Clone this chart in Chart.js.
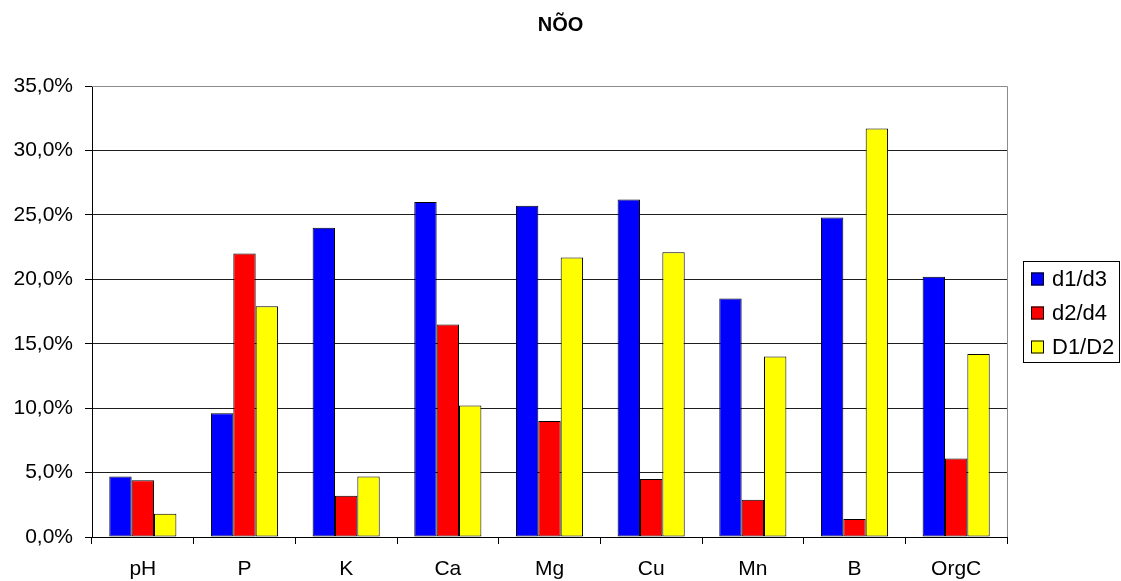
<!DOCTYPE html>
<html>
<head>
<meta charset="utf-8">
<script src="https://cdn.jsdelivr.net/npm/chart.js@4/dist/chart.umd.min.js"></script>
<style>
  html, body { margin: 0; padding: 0; background: #fff; }
  #wrap { width: 1121px; height: 581px; }
</style>
</head>
<body>
<div id="wrap"><canvas id="c" width="1121" height="581"></canvas></div>
<script>
// Soil attributes compared
const categories = ['pH', 'P', 'K', 'Ca', 'Mg', 'Cu', 'Mn', 'B', 'OrgC'];
// Relative differences in percent
const seriesNames = ['d1/d3', 'd2/d4', 'D1/D2'];
const d1d3 = [4.7, 9.6, 24.0, 26.0, 25.7, 26.2, 18.5, 24.8, 20.2];
const d2d4 = [4.4, 22.0, 3.2, 16.5, 9.0, 4.5, 2.9, 1.4, 6.1];
const D1D2 = [1.8, 17.9, 4.7, 10.2, 21.7, 22.1, 14.0, 31.7, 14.2];
const seriesColors = ['#0000FF', '#FF0000', '#FFFF00'];
const yTicks = [0, 5, 10, 15, 20, 25, 30, 35];
const chartTitle = 'NÕO';

const FONT = "'Liberation Sans', Arial, sans-serif";

// Plot frame (gray top/right edges) and boxed legend on the right
const framePlugin = {
  id: 'frame',
  beforeDatasetsDraw(chart) {
    const { ctx, chartArea: a } = chart;
    ctx.save();
    ctx.strokeStyle = '#8c8c8c';
    ctx.lineWidth = 1;
    ctx.beginPath();
    ctx.moveTo(a.left, Math.round(a.top) + 0.5);
    ctx.lineTo(Math.round(a.right) + 0.5, Math.round(a.top) + 0.5);
    ctx.lineTo(Math.round(a.right) + 0.5, a.bottom);
    ctx.stroke();
    ctx.restore();
  },
  afterDraw(chart) {
    const { ctx } = chart;
    const bx = 1023.5, by = 261.5, bw = 96, bh = 101;
    ctx.save();
    ctx.fillStyle = '#fff';
    ctx.fillRect(bx, by, bw, bh);
    ctx.strokeStyle = '#000';
    ctx.lineWidth = 1;
    ctx.strokeRect(bx, by, bw, bh);
    ctx.font = '22px ' + FONT;
    ctx.textBaseline = 'middle';
    ctx.textAlign = 'left';
    chart.data.datasets.forEach((ds, i) => {
      const cy = 279 + i * 34;
      ctx.fillStyle = ds.backgroundColor;
      ctx.fillRect(1031, cy - 6.5, 13, 13);
      ctx.strokeStyle = '#000';
      ctx.strokeRect(1031.5, cy - 6, 12, 12);
      ctx.fillStyle = '#000';
      ctx.fillText(ds.label, 1052, cy + 1);
    });
    ctx.restore();
  }
};

const datasets = [d1d3, d2d4, D1D2].map((vals, i) => ({
  label: seriesNames[i],
  data: vals,
  backgroundColor: seriesColors[i],
  borderColor: '#000',
  borderWidth: 1,
  borderSkipped: false,
  barPercentage: 1.0,
  categoryPercentage: 0.66
}));

new Chart(document.getElementById('c'), {
  type: 'bar',
  data: { labels: categories, datasets },
  plugins: [framePlugin],
  options: {
    responsive: false,
    animation: false,
    devicePixelRatio: 1,
    layout: { padding: { left: 0, right: 0, top: 0, bottom: 0 } },
    plugins: {
      legend: { display: false },
      tooltip: { enabled: false },
      title: {
        display: true,
        text: chartTitle,
        color: '#000',
        font: { family: FONT, size: 20, weight: 'bold', lineHeight: 1.2 },
        padding: { top: 13, bottom: 49 }
      }
    },
    scales: {
      x: {
        grid: {
          offset: true,
          drawOnChartArea: false,
          drawTicks: true,
          tickLength: 7,
          color: '#000'
        },
        border: { display: true, color: '#000', width: 1 },
        ticks: {
          color: '#000',
          font: { family: FONT, size: 21, lineHeight: 1.2 },
          padding: 13,
          maxRotation: 0,
          autoSkip: false
        },
        afterFit(scale) { scale.height = 44; }
      },
      y: {
        min: 0,
        max: 35,
        afterBuildTicks(scale) { scale.ticks = yTicks.map(v => ({ value: v })); },
        grid: {
          color: (c) => (c.tick && c.tick.value === 35 ? '#8c8c8c' : '#1e1e1e'),
          tickLength: 7,
          tickColor: '#000'
        },
        border: { display: true, color: '#000', width: 1 },
        ticks: {
          color: '#000',
          font: { family: FONT, size: 21, lineHeight: 1.2 },
          padding: 12,
          callback: (v) => v.toFixed(1).replace('.', ',') + '%'
        },
        afterFit(scale) { scale.width = 92; }
      },
      yRight: {
        position: 'right',
        min: 0,
        max: 35,
        grid: { display: false, drawOnChartArea: false },
        border: { display: false },
        ticks: { display: false },
        afterFit(scale) { scale.width = 114; }
      }
    }
  }
});
</script>
</body>
</html>
